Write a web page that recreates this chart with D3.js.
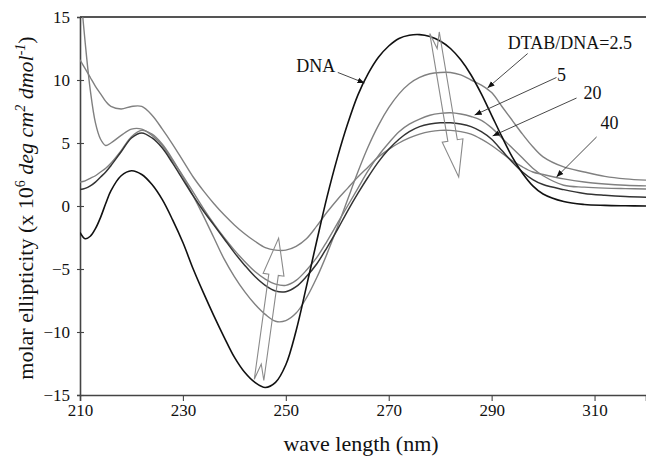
<!DOCTYPE html>
<html>
<head>
<meta charset="utf-8">
<script src="https://cdn.jsdelivr.net/npm/d3@7"></script>
<style>
  body { margin: 0; background: #fff; }
  text { font-family: "Liberation Serif", "Times New Roman", serif; fill: #111; }
</style>
</head>
<body>
<svg id="chart" width="646" height="457"></svg>
<script>

// wavelength grid (nm)
let wavelength = [210, 211, 212, 213, 214, 215, 216, 218, 220, 222, 224, 226, 228, 230,
  232, 234, 236, 238, 240, 242, 244, 246, 248, 250, 252, 254, 256, 258, 260, 262, 264,
  266, 268, 270, 272, 274, 276, 278, 280, 282, 284, 286, 288, 290, 292, 294, 296, 298,
  300, 304, 308, 312, 316, 320];

// molar ellipticity, x 10^6
let dna = [-2.1, -2.6, -2.4, -1.8, -0.9, 0.2, 1.2, 2.4, 2.8, 2.5, 1.7, 0.5, -1.1, -2.9,
  -5.0, -6.9, -8.7, -10.4, -12.0, -13.2, -14.0, -14.4, -14.0, -12.6, -9.9, -6.4, -2.8, 0.7,
  3.8, 6.5, 8.8, 10.5, 11.8, 12.7, 13.3, 13.55, 13.6, 13.45, 13.1, 12.5, 11.6, 10.4, 8.9,
  7.2, 5.5, 3.9, 2.6, 1.6, 0.95, 0.35, 0.12, 0.05, 0.02, 0.0];

let r25 = [1.9, 2.0, 2.2, 2.4, 2.7, 3.0, 3.4, 4.4, 5.5, 6.0, 5.7, 4.9, 3.7, 2.3,
  0.8, -0.8, -2.5, -4.2, -5.6, -6.8, -7.8, -8.6, -9.15, -9.1, -8.5, -7.3, -5.7, -3.8,
  -1.7, 0.5, 2.7, 4.7, 6.4, 7.8, 8.9, 9.7, 10.2, 10.5, 10.6, 10.6, 10.4, 10.0, 9.6,
  9.0, 7.9, 6.8, 5.7, 4.7, 3.9, 3.1, 2.7, 2.35, 2.15, 2.05];

let r5 = [17.5, 13.0, 9.2, 6.6, 5.3, 4.8, 5.0, 5.6, 6.1, 6.1, 5.6, 4.8, 3.6, 2.4,
  1.1, -0.2, -1.4, -2.5, -3.5, -4.4, -5.2, -5.8, -6.2, -6.3, -5.9, -5.1, -4.1, -2.8,
  -1.4, 0.0, 1.4, 2.8, 4.0, 5.0, 5.9, 6.5, 6.9, 7.2, 7.35, 7.4, 7.3, 7.1, 6.8,
  6.2, 5.4, 4.6, 3.8, 3.0, 2.4, 1.65, 1.5, 1.42, 1.38, 1.35];

let r20 = [1.3, 1.4, 1.6, 1.9, 2.3, 2.7, 3.2, 4.3, 5.4, 5.8, 5.4, 4.6, 3.4, 2.1,
  0.8, -0.4, -1.5, -2.6, -3.7, -4.7, -5.6, -6.3, -6.75, -6.8, -6.4, -5.6, -4.6, -3.3,
  -1.9, -0.4, 1.0, 2.3, 3.5, 4.5, 5.3, 5.9, 6.3, 6.5, 6.6, 6.6, 6.5, 6.3, 5.9,
  5.3, 4.4, 3.5, 2.7, 2.1, 1.7, 1.3, 1.0, 0.85, 0.75, 0.7];

let r40 = [11.6, 10.9, 10.2, 9.5, 8.9, 8.3, 7.9, 7.7, 7.9, 7.9, 7.2, 6.1, 4.9, 3.6,
  2.3, 1.2, 0.2, -0.7, -1.5, -2.2, -2.8, -3.3, -3.5, -3.5, -3.2, -2.6, -1.6, -0.5,
  0.5, 1.4, 2.3, 3.1, 3.9, 4.5, 5.0, 5.4, 5.7, 5.9, 6.0, 6.0, 5.9, 5.7, 5.3,
  4.8, 4.2, 3.6, 3.1, 2.7, 2.5, 2.15, 1.9, 1.75, 1.65, 1.6];

let xTicks = [210, 230, 250, 270, 290, 310];
let yTicks = [-15, -10, -5, 0, 5, 10, 15];

let series = [
  {name: "40", values: r40, color: "#808080", width: 1.4},
  {name: "5", values: r5, color: "#808080", width: 1.4},
  {name: "2.5", values: r25, color: "#808080", width: 1.4},
  {name: "20", values: r20, color: "#333", width: 1.5},
  {name: "DNA", values: dna, color: "#111", width: 1.6}
];

// label text, text anchor point, leader line start -> end (all in data units)
let labels = [
  {text: "DNA", at: [255.8, 10.6], from: [260.1, 10.6], to: [265.3, 9.76]},
  {text: "DTAB/DNA=2.5", at: [305.2, 12.45], from: [297.0, 12.1], to: [289.2, 9.37]},
  {text: "5", at: [303.6, 9.9], from: [302.6, 10.2], to: [286.7, 7.22]},
  {text: "20", at: [309.6, 8.5], from: [306.5, 8.57], to: [290.2, 5.56]},
  {text: "40", at: [312.9, 6.1], from: [310.4, 5.48], to: [302.6, 2.3]}
];

// hollow trend arrows: tail -> tip
let trendArrows = [
  {from: [278.9, 13.75], to: [283.6, 2.3]},
  {from: [244.8, -13.8], to: [248.6, -2.55]}
];


let svg = d3.select("#chart");
let mLeft = 80, mRight = 646, mTop = 17, mBottom = 395;

let x = d3.scaleLinear().domain([210, 320]).range([mLeft, mRight]);
let y = d3.scaleLinear().domain([-15, 15]).range([mBottom, mTop]);

let defs = svg.append("defs");
defs.append("clipPath").attr("id", "clip")
  .append("rect")
  .attr("x", mLeft).attr("y", mTop)
  .attr("width", mRight - mLeft).attr("height", mBottom - mTop);

defs.append("marker")
  .attr("id", "tip")
  .attr("viewBox", "0 0 10 10")
  .attr("refX", 10).attr("refY", 5)
  .attr("markerWidth", 7).attr("markerHeight", 7)
  .attr("markerUnits", "userSpaceOnUse")
  .attr("orient", "auto")
  .append("path")
  .attr("d", "M0,1 L10,5 L0,9 Z")
  .attr("fill", "#111");

// top frame line
svg.append("line")
  .attr("x1", mLeft).attr("x2", mRight)
  .attr("y1", mTop).attr("y2", mTop)
  .attr("stroke", "#555").attr("stroke-width", 2);

// axes
let xAxis = svg.append("g")
  .attr("transform", `translate(0,${mBottom})`)
  .call(d3.axisBottom(x).tickValues(xTicks).tickSize(6).tickPadding(3));

let yAxis = svg.append("g")
  .attr("transform", `translate(${mLeft},0)`)
  .call(d3.axisLeft(y).tickValues(yTicks).tickSize(3).tickPadding(7));

yAxis.selectAll(".tick line").attr("x2", 4).attr("x1", -3);

[xAxis, yAxis].forEach(function (a) {
  a.attr("font-family", "Liberation Serif").attr("font-size", 17);
  a.select(".domain").attr("stroke", "#444").attr("stroke-width", 1.6);
  a.selectAll(".tick line").attr("stroke", "#444").attr("stroke-width", 1.1);
  a.selectAll(".tick text")
    .attr("fill", "#111")
    .style("font-family", "Liberation Serif, serif")
    .style("font-size", "17px");
});

// curves
let line = d3.line()
  .x(function (d, i) { return x(wavelength[i]); })
  .y(function (d) { return y(d); })
  .curve(d3.curveCatmullRom.alpha(0.5));

let plot = svg.append("g").attr("clip-path", "url(#clip)");

plot.selectAll("path.curve")
  .data(series)
  .enter().append("path")
  .attr("class", "curve")
  .attr("d", function (d) { return line(d.values); })
  .attr("fill", "none")
  .attr("stroke", function (d) { return d.color; })
  .attr("stroke-width", function (d) { return d.width; });

// hollow arrows
function hollowArrow (a) {
  let p0 = [x(a.from[0]), y(a.from[1])];
  let p1 = [x(a.to[0]), y(a.to[1])];
  let dx = p1[0] - p0[0], dy = p1[1] - p0[1];
  let L = Math.hypot(dx, dy);
  let u = [dx / L, dy / L], n = [-u[1], u[0]];
  let sw = 4.8, hw = 10.5, hl = 37, nd = 16;
  let pt = function (along, side) {
    return [p0[0] + u[0] * along + n[0] * side, p0[1] + u[1] * along + n[1] * side];
  };
  let pts = [pt(0, sw), pt(L - hl, sw), pt(L - hl, hw), p1,
    pt(L - hl, -hw), pt(L - hl, -sw), pt(0, -sw), pt(nd, 0)];
  return "M" + pts.map(p => p.join(",")).join("L") + "Z";
}

svg.selectAll("path.trend")
  .data(trendArrows)
  .enter().append("path")
  .attr("class", "trend")
  .attr("d", hollowArrow)
  .attr("fill", "none")
  .attr("stroke", "#8a8a8a")
  .attr("stroke-width", 1.1);

// labels with leader lines
svg.selectAll("line.leader")
  .data(labels)
  .enter().append("line")
  .attr("class", "leader")
  .attr("x1", d => x(d.from[0])).attr("y1", d => y(d.from[1]))
  .attr("x2", d => x(d.to[0])).attr("y2", d => y(d.to[1]))
  .attr("stroke", "#333").attr("stroke-width", 0.9)
  .attr("marker-end", "url(#tip)");

svg.selectAll("text.lbl")
  .data(labels)
  .enter().append("text")
  .attr("class", "lbl")
  .attr("x", d => x(d.at[0])).attr("y", d => y(d.at[1]))
  .attr("text-anchor", "middle")
  .style("font-size", "18px")
  .text(d => d.text);

// axis titles
svg.append("text")
  .attr("x", 361).attr("y", 451)
  .attr("text-anchor", "middle")
  .style("font-size", "22px")
  .text("wave length (nm)");

let yt = svg.append("text")
  .attr("transform", `translate(33,208) rotate(-90)`)
  .attr("text-anchor", "middle")
  .style("font-size", "22px");
yt.append("tspan").text("molar ellipticity (x 10");
yt.append("tspan").attr("dy", -8).style("font-size", "14px").text("6");
yt.append("tspan").attr("dy", 8).text(" ");
yt.append("tspan").style("font-style", "italic").text("deg cm");
yt.append("tspan").attr("dy", -8).style("font-size", "14px").style("font-style", "italic").text("2");
yt.append("tspan").attr("dy", 8).style("font-style", "italic").text(" dmol");
yt.append("tspan").attr("dy", -8).style("font-size", "14px").style("font-style", "italic").text("-1");
yt.append("tspan").attr("dy", 8).text(")");

</script>
</body>
</html>
